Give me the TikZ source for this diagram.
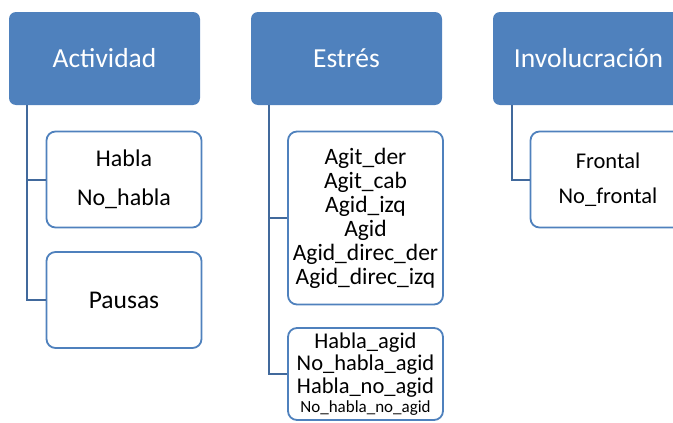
\documentclass[tikz,border=0pt]{standalone}
\usepackage{fontspec}
\setmainfont{Carlito}
\definecolor{hdrblue}{HTML}{4F81BD}
\definecolor{lineblue}{HTML}{41699C}

\begin{document}
\begin{tikzpicture}
[x=1pt, y=-1pt, every node/.style={inner sep=0pt},
 header/.style={rectangle, rounded corners=7pt, fill=hdrblue, minimum width=191pt, minimum height=93pt, text=white, font=\fontsize{27.5}{29}\selectfont},
 leaf/.style={rectangle, rounded corners=9pt, fill=white, draw=hdrblue, line width=1.8pt, minimum width=155pt, align=center},
 trunk/.style={line width=2pt, draw=lineblue}]
\useasboundingbox (0,0) rectangle (673,423);
% headers
\node (act) [header] at (104.5, 58.5) {Actividad};
\node (est) [header] at (346.5, 58.5) {Estrés};
\node (inv) [header] at (588.5, 58.5) {Involucración};
% leaves
\node (habla) [leaf, minimum height=96pt, font=\fontsize{24}{39}\selectfont] at (124, 179.5) {Habla\\No\_habla};
\node (pausas) [leaf, minimum height=96pt, font=\fontsize{25.5}{26}\selectfont] at (124, 300) {Pausas};
\node (agit) [leaf, minimum height=173pt, font=\fontsize{23.5}{24}\selectfont] at (365.5, 218) {Agit\_der\\Agit\_cab\\Agid\_izq\\Agid\\Agid\_direc\_der\\Agid\_direc\_izq};
\node (agid) [leaf, minimum height=92pt, font=\fontsize{22.5}{22.5}\selectfont] at (365.5, 374) {Habla\_agid\\No\_habla\_agid\\Habla\_no\_agid\\[-3pt]{\fontsize{17}{18}\selectfont No\_habla\_no\_agid}};
\node (front) [leaf, minimum height=96pt, font=\fontsize{22.5}{35}\selectfont] at (608, 179.5) {Frontal\\No\_frontal};
% connectors
\coordinate (act-t) at (27, 105);
\coordinate (est-t) at (269, 105);
\coordinate (inv-t) at (512, 105);
\draw [trunk] (act-t) |- (habla.west);
\draw [trunk] (act-t) |- (pausas.west);
\draw [trunk] (est-t) |- (agit.west);
\draw [trunk] (est-t) |- (agid.west);
\draw [trunk] (inv-t) |- (front.west);
\end{tikzpicture}
\end{document}
